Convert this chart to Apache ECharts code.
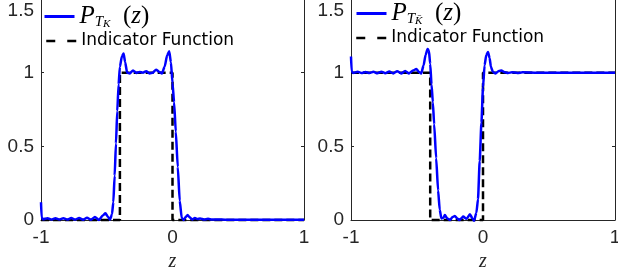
<!DOCTYPE html>
<html>
<head>
<meta charset="utf-8">
<script src="https://cdn.jsdelivr.net/npm/echarts@6/dist/echarts.min.js"></script>
<style>html,body{margin:0;padding:0;background:#fff}#c{width:618px;height:268px}</style>
</head>
<body>
<div id="c"></div>
<script>
// ---- data ----
const xLeft = [-1, -0.995, -0.985, -0.95, -0.92, -0.89, -0.86, -0.83, -0.80, -0.77, -0.74, -0.71, -0.68, -0.65, -0.62, -0.59, -0.56, -0.53, -0.51, -0.49, -0.475, -0.46, -0.45, -0.44, -0.43, -0.42, -0.41, -0.40, -0.385, -0.372, -0.36, -0.345, -0.325, -0.30, -0.275, -0.25, -0.225, -0.20, -0.175, -0.15, -0.125, -0.10, -0.08, -0.06, -0.04, -0.025, -0.012, 0, 0.012, 0.025, 0.04, 0.055, 0.07, 0.085, 0.10, 0.115, 0.13, 0.15, 0.17, 0.19, 0.21, 0.24, 0.27, 0.30, 0.35, 0.4, 0.5, 0.6, 0.7, 0.8, 0.9, 1.0];
const yLeft = [0.12, 0.015, 0.005, 0.012, 0.003, 0.012, 0.003, 0.012, 0.003, 0.013, 0.003, 0.014, 0.002, 0.016, 0.002, 0.02, 0.0, 0.03, 0.045, 0.02, 0.003, 0.04, 0.12, 0.30, 0.52, 0.74, 0.92, 1.04, 1.11, 1.13, 1.07, 1.0, 0.995, 1.015, 0.998, 1.005, 1.0, 1.01, 0.995, 1.0, 1.02, 1.005, 0.995, 1.04, 1.12, 1.145, 1.07, 0.93, 0.80, 0.60, 0.36, 0.13, 0.015, 0.0, 0.02, 0.034, 0.018, 0.004, 0.014, 0.006, 0.01, 0.003, 0.008, 0.003, 0.004, 0.002, 0.001, 0.001, 0.001, 0.001, 0.001, 0.001];

const xRight = [-1, -0.995, -0.985, -0.95, -0.92, -0.89, -0.86, -0.83, -0.80, -0.77, -0.74, -0.71, -0.68, -0.65, -0.62, -0.59, -0.56, -0.53, -0.505, -0.485, -0.468, -0.45, -0.435, -0.42, -0.41, -0.40, -0.39, -0.38, -0.37, -0.355, -0.34, -0.328, -0.315, -0.30, -0.289, -0.27, -0.25, -0.23, -0.213, -0.195, -0.18, -0.165, -0.15, -0.125, -0.099, -0.08, -0.068, -0.05, -0.038, -0.025, -0.012, 0.0, 0.012, 0.025, 0.038, 0.05, 0.06, 0.075, 0.095, 0.12, 0.14, 0.16, 0.19, 0.22, 0.26, 0.3, 0.4, 0.5, 0.6, 0.7, 0.8, 0.9, 1.0];
const yRight = [1.11, 1.01, 0.998, 1.006, 0.997, 1.005, 0.997, 1.006, 0.996, 1.007, 0.996, 1.008, 0.995, 1.01, 0.995, 1.012, 0.995, 1.015, 1.025, 1.005, 0.995, 1.05, 1.12, 1.16, 1.15, 1.06, 0.92, 0.80, 0.65, 0.42, 0.20, 0.07, 0.01, 0.015, 0.034, 0.01, 0.0, 0.02, 0.027, 0.01, 0.0, 0.01, 0.023, 0.008, 0.039, 0.01, -0.005, 0.05, 0.14, 0.40, 0.66, 0.90, 1.05, 1.12, 1.14, 1.10, 1.04, 1.005, 0.995, 1.012, 1.015, 1.005, 0.997, 1.003, 0.998, 1.002, 1.0, 1.0, 1.0, 1.0, 1.0, 1.0, 1.0];

const indX = [-1, -0.4, -0.4, 0, 0, 1];
const indLeft = [0, 0, 1, 1, 0, 0];
const indRight = [1, 1, 0, 0, 1, 1];

const xTicks = [-1, 0, 1];
const yTicks = [0, 0.5, 1, 1.5];

const nameLeft = 'P_TK';
const nameRight = 'P_TKbar';
const nameInd = 'Indicator Function';

// ---- chart ----
const pairs = (xs, ys) => xs.map((x, i) => [x, ys[i]]);
const ink = '#262626';
const tickFont = {fontFamily: 'Liberation Sans', fontSize: 19, color: ink};

function xAxisFor(g) {
  return {
    type: 'value', gridIndex: g, min: xTicks[0], max: xTicks[xTicks.length - 1], interval: 1,
    axisLine: {show: true, onZero: false, lineStyle: {color: ink, width: 1}},
    axisTick: {show: true, inside: true, length: 3, lineStyle: {color: ink}},
    axisLabel: Object.assign({margin: 8, formatter: v => String(v)}, tickFont),
    splitLine: {show: false},
    name: 'z', nameLocation: 'middle', nameGap: 27,
    nameTextStyle: {fontFamily: 'Liberation Serif', fontStyle: 'italic', fontSize: 20, color: ink}
  };
}
function yAxisFor(g, right) {
  return {
    type: 'value', gridIndex: g, min: yTicks[0], max: yTicks[yTicks.length - 1], interval: 0.5,
    position: right ? 'right' : 'left',
    axisLine: {show: true, onZero: false, lineStyle: {color: ink, width: 1}},
    axisTick: {show: true, inside: true, length: 3, lineStyle: {color: ink}},
    axisLabel: right ? {show: false} : Object.assign({
      margin: 7,
      formatter: v => v === 1.5 ? '{t|1.5}' : String(v),
      rich: {t: Object.assign({padding: [24, 0, 0, 0]}, tickFont)}
    }, tickFont),
    splitLine: {show: false}
  };
}

const richMath = {
  p: {fontFamily: 'Liberation Serif', fontStyle: 'italic', fontSize: 25, lineHeight: 26, color: '#000'},
  s: {fontFamily: 'Liberation Serif', fontStyle: 'italic', fontSize: 15, lineHeight: 17, verticalAlign: 'bottom', color: '#000'},
  ss: {fontFamily: 'Liberation Serif', fontStyle: 'italic', fontSize: 11, lineHeight: 11, verticalAlign: 'bottom', color: '#000'},
  q: {fontFamily: 'Liberation Serif', fontStyle: 'normal', fontSize: 25, lineHeight: 26, color: '#000'}
};
function legendLabel(name) {
  if (name === nameLeft) return '{p|P}{s|T}{ss|K}{q|  (}{p|z}{q|)}';
  if (name === nameRight) return '{p|P}{s|T}{ss|K\u0304}{q|  (}{p|z}{q|)}';
  return name;
}
function legendFor(name, left, top) {
  const isInd = name === nameInd;
  return {
    data: [name], left: left, top: top, orient: 'vertical', padding: 0,
    itemWidth: 30, itemHeight: 14,
    formatter: legendLabel,
    textStyle: isInd ? {fontFamily: 'DejaVu Sans', fontSize: 17, lineHeight: 18, color: '#000'} : {rich: richMath},
    lineStyle: isInd ? {type: [9, 12], width: 2.5, color: '#000'} : {width: 3, color: '#0000ff'},
    itemStyle: {opacity: 0},
    selectedMode: false
  };
}

const blue = {color: '#0000ff', width: 2.5};
const dash = {color: '#000000', width: 2.5, type: [8, 4]};

const option = {
  animation: false,
  backgroundColor: '#ffffff',
  grid: [
    {left: 41, right: 314, top: -1, bottom: 48, containLabel: false, outerBoundsMode: 'none'},
    {left: 351, right: 3, top: -1, bottom: 48, containLabel: false, outerBoundsMode: 'none'}
  ],
  xAxis: [xAxisFor(0), xAxisFor(1)],
  yAxis: [yAxisFor(0, false), yAxisFor(0, true), yAxisFor(1, false), yAxisFor(1, true)],
  legend: [
    legendFor(nameLeft, 43, 4),
    legendFor(nameInd, 45, 32),
    legendFor(nameRight, 355, 1),
    legendFor(nameInd, 355, 29)
  ],
  series: [
    {name: nameInd, type: 'line', xAxisIndex: 0, yAxisIndex: 0, data: pairs(indX, indLeft), showSymbol: false, symbol: 'none', lineStyle: dash, color: '#000', clip: false},
    {name: nameLeft, type: 'line', xAxisIndex: 0, yAxisIndex: 0, data: pairs(xLeft, yLeft), showSymbol: false, symbol: 'none', smooth: 0.2, smoothMonotone: 'x', lineStyle: blue, color: '#0000ff', clip: false},
    {name: nameInd, type: 'line', xAxisIndex: 1, yAxisIndex: 2, data: pairs(indX, indRight), showSymbol: false, symbol: 'none', lineStyle: dash, color: '#000', clip: false},
    {name: nameRight, type: 'line', xAxisIndex: 1, yAxisIndex: 2, data: pairs(xRight, yRight), showSymbol: false, symbol: 'none', smooth: 0.2, smoothMonotone: 'x', lineStyle: blue, color: '#0000ff', clip: false}
  ]
};
const chart = echarts.init(document.getElementById('c'), null, {renderer: 'canvas'});
chart.setOption(option);
</script>
</body>
</html>
